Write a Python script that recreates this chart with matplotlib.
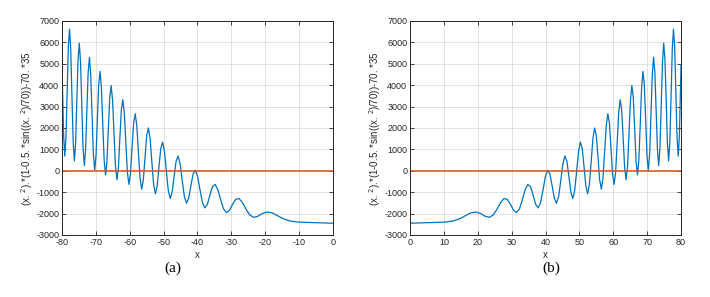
import numpy as np
import matplotlib
matplotlib.use("Agg")
import matplotlib.pyplot as plt

# |x| positions (0..80) and curve values;
# panel (a) is the mirror image of panel (b)
x_abs = [0.00, 7.41, 10.49, 12.84, 14.83, 16.58, 18.16, 19.62, 20.97, 22.24,
         23.45, 24.59, 25.69, 26.73, 27.74, 28.72, 29.66, 30.57, 31.46, 32.32,
         33.16, 33.98, 34.78, 35.56, 36.32, 37.07, 37.81, 38.53, 39.24, 39.93,
         40.61, 41.28, 41.94, 42.59, 43.23, 43.87, 44.49, 45.10, 45.71, 46.31,
         46.89, 47.48, 48.05, 48.62, 49.18, 49.74, 50.29, 50.83, 51.37, 51.90,
         52.43, 52.95, 53.47, 53.98, 54.49, 54.99, 55.49, 55.98, 56.47, 56.95,
         57.43, 57.91, 58.38, 58.85, 59.32, 59.78, 60.24, 60.69, 61.14, 61.59,
         62.04, 62.48, 62.92, 63.35, 63.78, 64.21, 64.64, 65.06, 65.48, 65.90,
         66.32, 66.73, 67.14, 67.55, 67.96, 68.36, 68.76, 69.16, 69.56, 69.95,
         70.34, 70.73, 71.12, 71.51, 71.89, 72.27, 72.65, 73.03, 73.40, 73.78,
         74.15, 74.52, 74.89, 75.25, 75.62, 75.98, 76.34, 76.70, 77.06, 77.41,
         77.77, 78.12, 78.47, 78.82, 79.17, 79.51, 79.86, 80.00]
y_val = [-2450, -2414, -2395, -2343, -2230, -2078, -1955, -1929, -2010, -2130,
         -2175, -2059, -1790, -1483, -1295, -1334, -1570, -1846, -1955, -1775,
         -1350, -887, -636, -738, -1131, -1562, -1735, -1490, -911, -292,
         24, -143, -691, -1277, -1515, -1206, -471, 303, 684, 452,
         -251, -993, -1295, -922, -31, 899, 1343, 1048, 189, -709,
         -1076, -638, 409, 1494, 2003, 1643, 629, -424, -856, -353,
         849, 2090, 2663, 2238, 1069, -140, -636, -69, 1289, 2685,
         3323, 2834, 1508, 144, -416, 215, 1728, 3280, 3982, 3429,
         1948, 429, -196, 500, 2168, 3876, 4642, 4024, 2388, 713,
         24, 784, 2608, 4471, 5302, 4620, 2828, 997, 244, 1068,
         3048, 5066, 5962, 5215, 3268, 1281, 464, 1353, 3488, 5662,
         6621, 5810, 3708, 1566, 684, 1637, 3927, 4963]

ylabel = r"(x. $^{2}$).*(1-0.5. *sin((x. $^{2}$)/70))-70. *35"
blue = "#0072BD"
orange = "#D95319"
dark = (0.15, 0.15, 0.15)

plt.rcParams['font.family'] = ['Liberation Sans', 'DejaVu Sans']
plt.rcParams['axes.unicode_minus'] = False

fig = plt.figure(figsize=(7.1, 2.97), dpi=100)

panels = [
    (0.0873, -np.array(x_abs), (-80, 0), np.arange(-80, 1, 10), "(a)", 0.244),
    (0.5775, np.array(x_abs), (0, 80), np.arange(0, 81, 10), "(b)", 0.777),
]

for left, xs, xlim, xticks, tag, tagx in panels:
    ax = fig.add_axes([left, 0.2088, 0.3817, 0.7205])
    ax.plot(xs, y_val, color=blue, lw=0.9)
    ax.plot(xlim, [0, 0], color=orange, lw=1.1)
    ax.set_xlim(xlim)
    ax.set_ylim(-3000, 7000)
    ax.set_xticks(xticks)
    ax.set_yticks(np.arange(-3000, 7001, 1000))
    ax.grid(True, color=dark, alpha=0.15, lw=0.6)
    ax.tick_params(direction='in', top=True, right=True, length=3,
                   width=0.6, labelsize=6.5, colors=dark, pad=2)
    for s in ax.spines.values():
        s.set_color(dark)
        s.set_linewidth(0.7)
    ax.set_xlabel("x", fontsize=7, labelpad=2, color=dark)
    ax.set_ylabel(ylabel, fontsize=7, labelpad=1, color=dark)
    fig.text(tagx, 0.098, tag, ha='center', va='center', fontsize=11,
             family='Liberation Serif')

fig.savefig("out.png", dpi=100)
